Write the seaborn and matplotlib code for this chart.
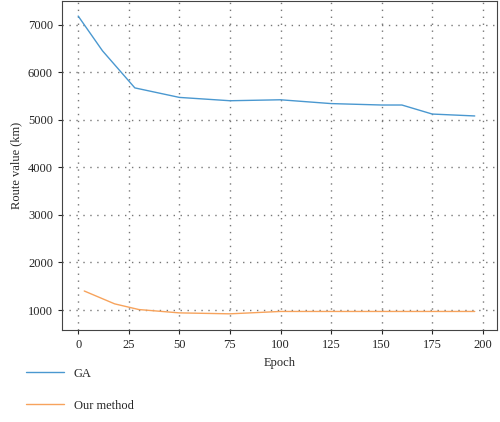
import matplotlib
matplotlib.use("Agg")
import matplotlib.pyplot as plt
import seaborn as sns
import pandas as pd

ga_epoch = [0, 12, 28, 50, 75, 100, 125, 150, 160, 175, 196]
ga_value = [7180, 6450, 5670, 5470, 5400, 5420, 5340, 5310, 5310, 5120, 5080]
our_epoch = [3, 18, 30, 50, 75, 100, 125, 150, 175, 196]
our_value = [1400, 1130, 1010, 940, 920, 970, 970, 970, 970, 970]

sns.set_style("white")
plt.rcParams["font.family"] = ["Liberation Serif", "DejaVu Serif"]

fig = plt.figure(figsize=(5, 4.22), dpi=100)
ax = fig.add_axes([0.124, 0.218, 0.87, 0.78])

ga = pd.DataFrame({"Epoch": ga_epoch, "value": ga_value})
ours = pd.DataFrame({"Epoch": our_epoch, "value": our_value})
sns.lineplot(data=ga, x="Epoch", y="value", ax=ax, color="#4a98d0", lw=1, label="GA")
sns.lineplot(data=ours, x="Epoch", y="value", ax=ax, color="#f7a35c", lw=1, label="Our method")

ax.set_xlim(-8, 207)
ax.set_ylim(580, 7500)
ax.set_xticks(range(0, 201, 25))
ax.set_yticks(range(1000, 7001, 1000))
ax.grid(True, linestyle=(0, (1, 4)), color="#777777", lw=1)
ax.set_xlabel("Epoch", fontsize=9)
ax.set_ylabel("Route value (km)", fontsize=9)
ax.tick_params(labelsize=9, length=3, direction="out", bottom=True, left=True)
for s in ax.spines.values():
    s.set_color("#444444")
    s.set_linewidth(0.8)

h, l = ax.get_legend_handles_labels()
ax.get_legend().remove()
fig.legend(h, l, loc="upper left", bbox_to_anchor=(0.03, 0.155), frameon=False,
           fontsize=9, labelspacing=1.6, handlelength=3)

fig.savefig("out.png", dpi=100)
